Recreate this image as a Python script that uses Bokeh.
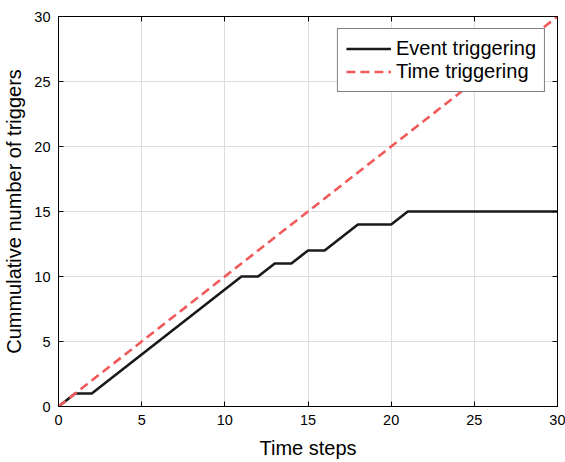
from bokeh.plotting import figure
from bokeh.models import LinearAxis, Range1d, FixedTicker, Legend, LegendItem, CustomJSTickFormatter
from bokeh.embed import file_html
from bokeh.resources import INLINE

time_steps = list(range(0, 31))
event_triggers = [0, 1, 1, 2, 3, 4, 5, 6, 7, 8, 9, 10, 10, 11, 11, 12, 12, 13, 14, 14, 14,
                  15, 15, 15, 15, 15, 15, 15, 15, 15, 15]
time_triggers = list(range(0, 31))
x_ticks = [0, 5, 10, 15, 20, 25, 30]
y_ticks = [0, 5, 10, 15, 20, 25, 30]

FONT = "Liberation Sans"

p = figure(width=565, height=462, output_backend="svg", toolbar_location=None,
           x_range=Range1d(0, 30), y_range=Range1d(0, 30),
           min_border_left=58, min_border_right=8, min_border_top=16, min_border_bottom=56)

p.outline_line_color = "black"
p.outline_line_width = 1
p.background_fill_color = "white"

for ax in (p.xaxis[0], p.yaxis[0]):
    ax.major_tick_in = 5
    ax.major_tick_out = 0
    ax.minor_tick_line_color = None
    ax.axis_line_color = "black"
    ax.major_tick_line_color = "black"
    ax.major_label_text_font = FONT
    ax.major_label_text_font_size = "14.5px"
    ax.major_label_text_color = "black"
    ax.axis_label_text_font = FONT
    ax.axis_label_text_font_size = "20px"
    ax.axis_label_text_font_style = "normal"
    ax.axis_label_text_color = "black"

p.xaxis[0].ticker = FixedTicker(ticks=x_ticks)
p.yaxis[0].ticker = FixedTicker(ticks=y_ticks)
p.xaxis[0].axis_label = "Time steps"
p.yaxis[0].axis_label = "Cummulative number of triggers"
p.xaxis[0].major_label_standoff = 8
p.yaxis[0].major_label_standoff = 8
p.xaxis[0].axis_label_standoff = 9
p.yaxis[0].axis_label_standoff = 6

blank = CustomJSTickFormatter(code="return ''")
right = LinearAxis(ticker=FixedTicker(ticks=y_ticks), formatter=blank,
                   major_tick_in=5, major_tick_out=0, minor_tick_line_color=None,
                   axis_line_color="black", major_label_standoff=0)
top = LinearAxis(ticker=FixedTicker(ticks=x_ticks), formatter=CustomJSTickFormatter(code="return ''"),
                 major_tick_in=5, major_tick_out=0, minor_tick_line_color=None,
                 axis_line_color="black", major_label_standoff=0)
p.add_layout(right, "right")
p.add_layout(top, "above")

p.xgrid.ticker = FixedTicker(ticks=x_ticks)
p.ygrid.ticker = FixedTicker(ticks=y_ticks)
p.xgrid.grid_line_color = "#dddddd"
p.ygrid.grid_line_color = "#dddddd"

r1 = p.line(time_steps, event_triggers, line_color="#1a1a1a", line_width=2.6)
r2 = p.line(time_steps, time_triggers, line_color="#F05A5A", line_width=2.6, line_dash="9 5")

legend = Legend(items=[LegendItem(label="Event triggering", renderers=[r1]),
                       LegendItem(label="Time triggering", renderers=[r2])],
                location="top_right")
legend.label_text_font = FONT
legend.label_text_font_size = "20px"
legend.label_text_color = "black"
legend.border_line_color = "black"
legend.border_line_width = 1
legend.glyph_width = 45
legend.label_standoff = 5
legend.spacing = 0
legend.padding = 8
legend.margin = 12
legend.label_height = 23
legend.glyph_height = 23
legend.background_fill_alpha = 1
p.add_layout(legend)

open("out.html", "w").write(file_html(p, INLINE))
